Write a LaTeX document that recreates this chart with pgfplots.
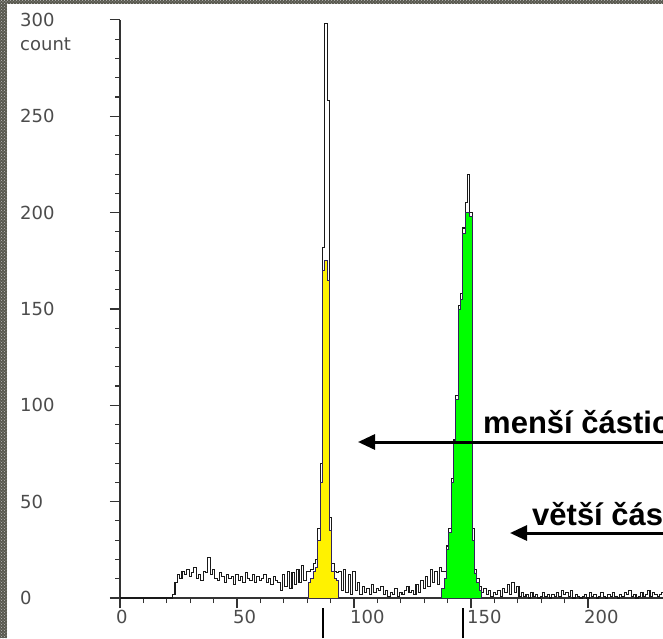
\documentclass[border=0pt]{standalone}
\usepackage{fontspec}
\setmainfont{Liberation Sans}
\newfontfamily\tickfont{DejaVu Sans}
\usepackage{pgfplots}
\pgfplotsset{compat=1.18}
\usetikzlibrary{arrows.meta,patterns}
\definecolor{framecol}{RGB}{88,88,78}
\definecolor{gateline}{RGB}{50,35,90}
\begin{document}
\begin{tikzpicture}
\clip (0pt,0pt) rectangle (663pt,638pt);
\fill[white] (0pt,0pt) rectangle (663pt,638pt);
\fill[framecol] (0pt,0pt) rectangle (7pt,638pt);
\fill[framecol] (0pt,634pt) rectangle (663pt,638pt);
\fill[pattern=crosshatch dots, pattern color=gray!55] (0pt,0pt) rectangle (7pt,638pt);
\fill[pattern=crosshatch dots, pattern color=gray!55] (0pt,634pt) rectangle (663pt,638pt);
\begin{axis}[
  at={(120pt,40pt)}, anchor=south west,
  x=2.34pt, y=1.927pt,
  xmin=0, xmax=232, ymin=0, ymax=300,
  axis lines*=left,
  axis line style={black!80, line width=1.3pt},
  xtick={0,50,...,200}, ytick={0,50,...,300},
  minor x tick num=4, minor y tick num=4,
  tick align=outside,
  major tick length=10pt, minor tick length=5pt,
  tick style={black!80, line width=1.1pt},
  /pgf/number format/assume math mode=true,
  tick label style={font=\tickfont\fontsize{18}{18}\selectfont, text=black!70, inner sep=0pt},
  yticklabel style={anchor=west, xshift=-90pt},
  xticklabel style={anchor=north west, xshift=-4pt, yshift=-2pt},
]
% total histogram (all events)
\addplot[const plot mark mid, draw=black!90, line width=1.05pt] coordinates {
(0,0)(22,0)(23,2)(24,8)(25,12)(26,10)(27,14)(28,12)(29,15)(30,11)(31,13)(32,16)(33,10)(34,12)(35,9)(36,14)(37,13)(38,21)(39,12)(40,15)
(41,10)(42,9)(43,13)(44,11)(45,8)(46,12)(47,10)(48,11)(49,7)(50,12)(51,9)(52,11)(53,8)(54,13)(55,10)(56,9)(57,12)(58,8)(59,11)(60,9)
(61,10)(62,12)(63,8)(64,10)(65,7)(66,11)(67,9)(68,8)(69,4)(70,12)(71,6)(72,14)(73,5)(74,13)(75,7)(76,15)(77,8)(78,17)(79,9)(80,14)
(81,14)(82,15)(83,18)(84,20)(85,36)(86,70)(87,182)(88,298)(89,258)(90,42)(91,18)(92,14)(93,13)(94,14)(95,4)(96,15)(97,3)(98,12)(99,2)(100,14)
(101,4)(102,8)(103,2)(104,6)(105,3)(106,5)(107,2)(108,7)(109,3)(110,5)(111,4)(112,6)(113,2)(114,4)(115,1)(116,3)(117,2)(118,5)(119,1)(120,3)
(121,2)(122,4)(123,6)(124,3)(125,4)(126,2)(127,7)(128,3)(129,9)(130,5)(131,11)(132,6)(133,15)(134,8)(135,14)(136,7)(137,16)(138,14)(139,14)(140,27)
(141,36)(142,62)(143,82)(144,105)(145,152)(146,158)(147,192)(148,205)(149,220)(150,200)(151,36)(152,15)(153,10)(154,6)(155,3)(156,5)(157,2)(158,4)(159,1)(160,3)
(161,2)(162,4)(163,1)(164,5)(165,3)(166,7)(167,2)(168,8)(169,3)(170,6)(171,1)(172,3)(173,1)(174,2)(175,0)(176,3)(177,1)(178,2)(179,0)(180,1)
(181,3)(182,1)(183,2)(184,0)(185,2)(186,1)(187,3)(188,1)(189,4)(190,2)(191,3)(192,1)(193,4)(194,0)(195,2)(196,1)(197,0)(198,1)(199,2)(200,0)
(201,3)(202,1)(203,2)(204,0)(205,1)(206,3)(207,1)(208,0)(209,2)(210,1)(211,3)(212,1)(213,0)(214,2)(215,1)(216,3)(217,2)(218,4)(219,1)(220,2)
(221,0)(222,1)(223,3)(224,1)(225,2)(226,4)(227,1)(228,3)(229,2)(230,1)(231,2)(232,3)(233,1)
};
% gated: smaller particles (yellow)
\addplot[const plot mark mid, fill=yellow, draw=gateline, line width=0.8pt] coordinates {
(80,0)(81,8)(82,10)(83,14)(84,16)(85,30)(86,60)(87,170)(88,175)(89,165)(90,35)(91,14)(92,10)(93,9)(94,0)
} \closedcycle;
% gated: larger particles (green)
\addplot[const plot mark mid, fill=green, draw=gateline, line width=0.8pt] coordinates {
(137,0)(138,5)(139,10)(140,25)(141,34)(142,60)(143,80)(144,103)(145,150)(146,155)(147,189)(148,200)(149,200)(150,198)(151,30)(152,13)(153,8)(154,4)(155,0)
} \closedcycle;
\end{axis}
\begin{scope}[x=1pt,y=1pt]
\node[anchor=west, inner sep=0pt, font=\tickfont\fontsize{18}{18}\selectfont, text=black!70] at (20,594) {count};
\draw[line width=2pt, black] (323,0) -- (323,30);
\draw[line width=2pt, black] (463,0) -- (463,30);
\draw[overlay, line width=3pt, {Triangle[length=17pt,width=15pt]}-] (358,196) -- (700,196);
\draw[overlay, line width=3pt, {Triangle[length=17pt,width=15pt]}-] (510,105) -- (700,105);
\node[overlay, anchor=base west, inner sep=0pt, font=\bfseries\fontsize{31}{31}\selectfont] at (483,205) {menší částice};
\node[overlay, anchor=base west, inner sep=0pt, font=\bfseries\fontsize{31}{31}\selectfont] at (532,113) {větší částice};
\end{scope}
\end{tikzpicture}
\end{document}
